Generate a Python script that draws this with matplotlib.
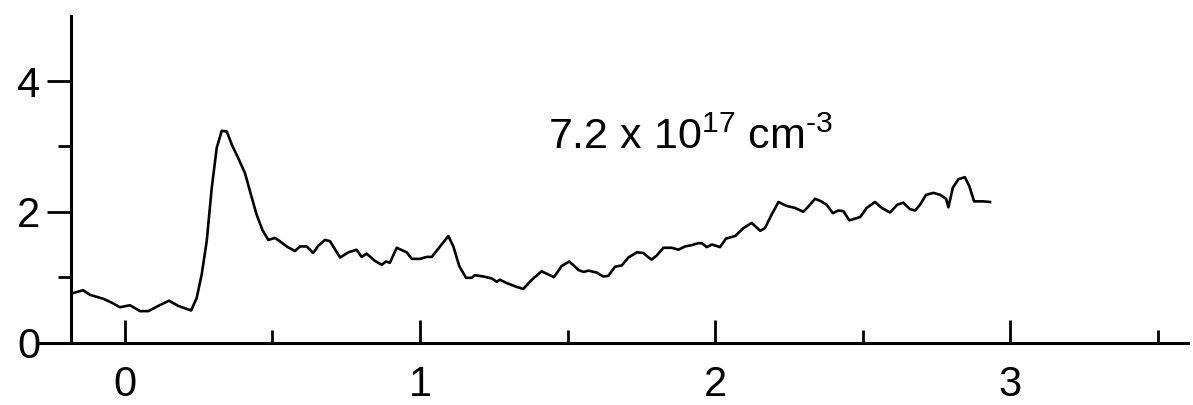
import matplotlib
matplotlib.use("Agg")
import matplotlib.pyplot as plt
from matplotlib.ticker import FixedLocator, NullFormatter

plt.rcParams["font.family"] = ["Liberation Sans", "DejaVu Sans"]
plt.rcParams["mathtext.fontset"] = "custom"
plt.rcParams["mathtext.rm"] = "Liberation Sans"
plt.rcParams["mathtext.it"] = "Liberation Sans:italic"

x_vals = [-0.181, -0.142, -0.119, -0.096, -0.074, -0.045, -0.017, 0.017, 0.051, 0.079,
          0.113, 0.149, 0.181, 0.224, 0.243, 0.260, 0.277, 0.294, 0.311, 0.328,
          0.345, 0.362, 0.384, 0.407, 0.424, 0.446, 0.466, 0.486, 0.508, 0.525,
          0.548, 0.576, 0.593, 0.616, 0.638, 0.655, 0.678, 0.695, 0.729, 0.757,
          0.785, 0.802, 0.819, 0.847, 0.870, 0.885, 0.898, 0.921, 0.955, 0.972,
          1.000, 1.023, 1.040, 1.068, 1.096, 1.113, 1.133, 1.156, 1.175, 1.186,
          1.215, 1.243, 1.260, 1.271, 1.294, 1.328, 1.350, 1.379, 1.412, 1.435,
          1.454, 1.480, 1.506, 1.537, 1.554, 1.571, 1.599, 1.621, 1.638, 1.661,
          1.684, 1.706, 1.735, 1.757, 1.775, 1.785, 1.802, 1.825, 1.853, 1.876,
          1.898, 1.921, 1.943, 1.955, 1.972, 1.989, 2.017, 2.037, 2.068, 2.096,
          2.124, 2.153, 2.169, 2.192, 2.215, 2.243, 2.271, 2.299, 2.316, 2.339,
          2.360, 2.378, 2.399, 2.418, 2.435, 2.455, 2.492, 2.514, 2.542, 2.565,
          2.593, 2.618, 2.638, 2.661, 2.678, 2.695, 2.715, 2.740, 2.763, 2.783,
          2.791, 2.806, 2.825, 2.847, 2.862, 2.878, 2.910, 2.932]
y_vals = [0.75, 0.80, 0.73, 0.70, 0.67, 0.61, 0.54, 0.57, 0.48, 0.48,
          0.56, 0.64, 0.56, 0.49, 0.68, 1.04, 1.55, 2.36, 2.98, 3.24,
          3.23, 3.03, 2.82, 2.59, 2.31, 1.96, 1.72, 1.57, 1.60, 1.55,
          1.47, 1.40, 1.47, 1.47, 1.37, 1.48, 1.57, 1.55, 1.30, 1.38,
          1.42, 1.31, 1.36, 1.25, 1.19, 1.24, 1.22, 1.45, 1.38, 1.28,
          1.28, 1.31, 1.31, 1.47, 1.63, 1.47, 1.17, 0.99, 0.99, 1.03,
          1.01, 0.98, 0.93, 0.96, 0.91, 0.85, 0.82, 0.96, 1.09, 1.04,
          1.00, 1.17, 1.24, 1.11, 1.08, 1.10, 1.07, 1.01, 1.02, 1.16,
          1.18, 1.30, 1.38, 1.37, 1.30, 1.27, 1.33, 1.45, 1.45, 1.42,
          1.47, 1.49, 1.52, 1.52, 1.46, 1.50, 1.46, 1.59, 1.63, 1.75,
          1.83, 1.71, 1.75, 1.96, 2.15, 2.09, 2.06, 2.00, 2.08, 2.20,
          2.16, 2.11, 1.98, 2.02, 2.01, 1.87, 1.92, 2.06, 2.15, 2.06,
          1.99, 2.11, 2.14, 2.04, 2.02, 2.11, 2.26, 2.29, 2.26, 2.20,
          2.07, 2.37, 2.50, 2.53, 2.39, 2.16, 2.16, 2.15]

x_major = [0, 1, 2, 3]
x_minor = [0.5, 1.5, 2.5, 3.5]
y_major = [0, 2, 4]
y_minor = [1, 3]
label = "$\\mathregular{7.2\\ x\\ 10^{17}\\ cm^{\u20103}}$"

fig = plt.figure(figsize=(11.93, 4.05), dpi=100)
ax = fig.add_axes([40 / 1193, 1 - 342.5 / 405, 1148 / 1193, 326.7 / 405])

ax.plot(x_vals, y_vals, color="black", linewidth=1.9)

ax.set_xlim(-0.288, 3.603)
ax.set_ylim(0, 5)

for side in ("top", "right"):
    ax.spines[side].set_visible(False)
ax.spines["left"].set_position(("data", -0.183))
ax.spines["left"].set_bounds(0, 5)
ax.spines["left"].set_linewidth(2.2)
ax.spines["bottom"].set_linewidth(2.2)

ax.xaxis.set_major_locator(FixedLocator(x_major))
ax.xaxis.set_minor_locator(FixedLocator(x_minor))
ax.xaxis.set_minor_formatter(NullFormatter())
ax.yaxis.set_major_locator(FixedLocator(y_major))
ax.yaxis.set_minor_locator(FixedLocator(y_minor))
ax.yaxis.set_minor_formatter(NullFormatter())

ax.tick_params(axis="x", which="major", direction="in", length=16.5, width=2.0,
               pad=16, labelsize=30)
ax.tick_params(axis="x", which="minor", direction="in", length=9.4, width=2.0)
ax.tick_params(axis="y", which="major", direction="out", length=17, width=2.0,
               pad=5, labelsize=30)
ax.tick_params(axis="y", which="minor", direction="out", length=9.4, width=2.0)

ax.text(1.435, 2.96, label, fontsize=31, ha="left", va="baseline")

fig.savefig("out.png", dpi=100)
